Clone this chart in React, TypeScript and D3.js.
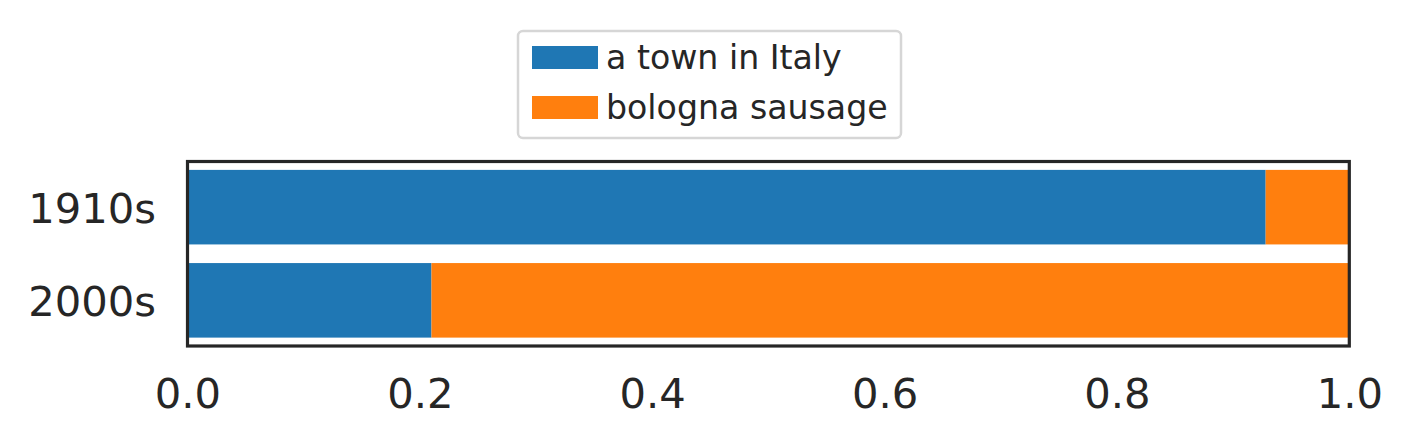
import React, { useEffect, useRef } from "react";
import * as d3 from "d3";

// share of each meaning per decade
const decades = ["1910s", "2000s"];
const townShare = [0.928, 0.21];
const sausageShare = [0.072, 0.79];
const seriesNames = ["a town in Italy", "bologna sausage"];
const seriesColors = ["#1f77b4", "#ff7f0e"];
const xTicks = [0, 0.2, 0.4, 0.6, 0.8, 1.0];

const W = 1412;
const H = 447;
const FONT = "DejaVu Sans, sans-serif";
const INK = "#262626";

export default function App() {
  const ref = useRef<SVGSVGElement>(null);

  useEffect(() => {
    const svg = d3.select(ref.current);
    svg.selectAll("*").remove();

    const left = 187.5, right = 1349.3, top = 161.5, bottom = 346;

    const x = d3.scaleLinear().domain([0, 1]).range([left, right]);
    const y = d3.scaleLinear().domain([-0.49, 1.49]).range([top, bottom]);
    const half = 0.4;

    const rows = decades.map((d, i) => ({ d, i, town: townShare[i], saus: sausageShare[i] }));

    // stacked bars
    const g = svg.append("g");
    g.selectAll("rect.town")
      .data(rows).enter()
      .append("rect")
      .attr("x", x(0))
      .attr("y", r => y(r.i - half))
      .attr("width", r => x(r.town) - x(0))
      .attr("height", r => y(r.i + half) - y(r.i - half))
      .attr("fill", seriesColors[0]);
    g.selectAll("rect.saus")
      .data(rows).enter()
      .append("rect")
      .attr("x", r => x(r.town))
      .attr("y", r => y(r.i - half))
      .attr("width", r => x(r.town + r.saus) - x(r.town))
      .attr("height", r => y(r.i + half) - y(r.i - half))
      .attr("fill", seriesColors[1]);

    // frame
    svg.append("rect")
      .attr("x", left).attr("y", top)
      .attr("width", right - left).attr("height", bottom - top)
      .attr("fill", "none").attr("stroke", INK).attr("stroke-width", 3.2);

    // x axis
    const xa = svg.append("g")
      .attr("transform", `translate(0,${bottom})`)
      .call(d3.axisBottom(x).tickValues(xTicks).tickSize(0).tickPadding(0).tickFormat(d3.format(".1f")));
    xa.select(".domain").remove();
    xa.selectAll("text")
      .attr("y", 62)
      .attr("dy", null)
      .attr("fill", INK)
      .attr("font-size", 41.7)
      .attr("font-family", FONT);

    // y labels
    svg.selectAll("text.ylab")
      .data(rows).enter()
      .append("text")
      .attr("x", 156)
      .attr("y", r => y(r.i) + 15.5)
      .attr("text-anchor", "end")
      .attr("fill", INK)
      .attr("font-size", 41.7)
      .attr("font-family", FONT)
      .text(r => r.d);

    // legend
    const lg = svg.append("g");
    lg.append("rect")
      .attr("x", 518).attr("y", 31)
      .attr("width", 383).attr("height", 107)
      .attr("rx", 5)
      .attr("fill", "white")
      .attr("stroke", "#d6d6d6").attr("stroke-width", 2.5);
    seriesNames.forEach((name, i) => {
      const yy = 46 + i * 50;
      lg.append("rect")
        .attr("x", 532).attr("y", yy)
        .attr("width", 66).attr("height", 23)
        .attr("fill", seriesColors[i]);
      lg.append("text")
        .attr("x", 606).attr("y", yy + 22.7)
        .attr("fill", INK)
        .attr("font-size", 33.2)
        .attr("font-family", FONT)
        .text(name);
    });
  }, []);

  return (
    <svg ref={ref} width={W} height={H} style={{ position: "absolute", left: 0, top: 0, background: "white" }} />
  );
}
